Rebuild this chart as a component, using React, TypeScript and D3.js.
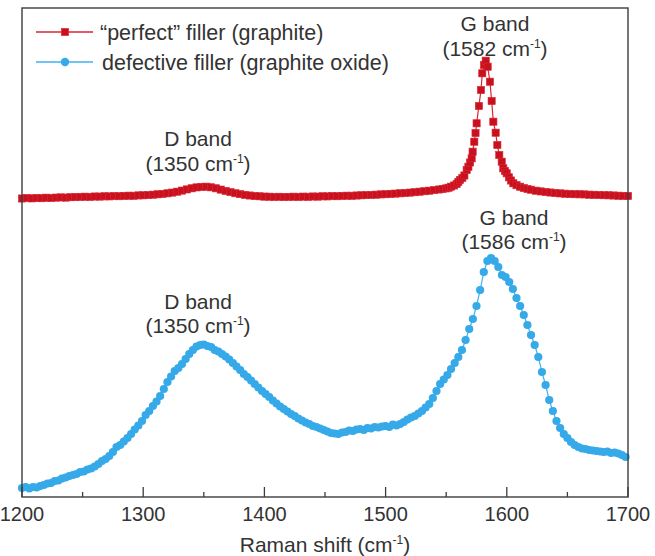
import React from "react";
import * as d3 from "d3";

const tickLabels = [1200, 1300, 1400, 1500, 1600, 1700];
const minorTicks = [1250, 1350, 1450, 1550, 1650];

const seriesNames = ["\u201Cperfect\u201D filler (graphite)", "defective filler (graphite oxide)"];

const redShift = [1200,1204,1208,1212,1216,1220,1224,1228,1232,1236,1240,1244,1248,1252,1256,1260,1264,1268,1272,1276,1280,1284,1288,1292,1296,1300,1304,1308,1312,1316,1320,1324,1328,1332,1336,1340,1344,1348,1352,1356,1360,1364,1368,1372,1376,1380,1384,1388,1392,1396,1400,1404,1408,1412,1416,1420,1424,1428,1432,1436,1440,1444,1448,1452,1456,1460,1464,1468,1472,1476,1480,1484,1488,1492,1496,1500,1504,1508,1512,1516,1520,1524,1528,1532,1536,1540,1544,1547,1550,1552,1554,1556.5,1558.6,1560,1561.4,1563.3,1565,1566.9,1568.3,1569.7,1571,1571.8,1573.2,1574.2,1575.1,1577,1578.7,1579.8,1581.2,1582.6,1584.2,1586.1,1587.5,1588.9,1590.8,1592.2,1593.8,1595.8,1597.1,1598.5,1599.9,1601.8,1603.5,1605.4,1608,1611,1614,1617,1620,1624,1628,1632,1636,1640,1644,1648,1652,1656,1660,1664,1668,1672,1676,1680,1684,1688,1692,1696,1700];
const redIntensity = [298.5,299,298.6,299,298.8,299.3,299,299.4,299.6,299.4,299.8,299.9,300.1,300.3,300.1,300.5,300.4,300.7,300.6,300.9,300.8,301.1,301.3,301.2,301.6,301.7,302,302.3,302.7,303.1,303.7,304.4,305.3,306.4,307.6,308.7,309.6,310.1,310.3,309.7,308.7,307.4,306.1,304.9,303.8,302.9,302.1,301.5,301,300.7,300.4,300.3,300.1,300.2,300,300.1,300.3,300.1,300.4,300.2,300.5,300.4,300.7,300.6,300.9,300.8,301.1,301.3,301.2,301.5,301.7,301.9,302.1,302.3,302.6,302.8,303.1,303.4,303.7,304,304.4,304.8,305.3,305.8,306.3,306.9,307.5,308,308.6,309.3,310.3,311.5,313,315,317,319,321.5,327,330.3,334.5,338.7,345.3,355.3,364,373.7,391,407,423.7,432,436.3,430.3,415.3,396,375.3,364.3,352,342,335.3,328.7,326,323.7,319.7,316.5,313.7,311.8,310.3,309,308,307.3,306.3,305.6,305,304.5,304,303.6,303.3,303,302.8,302.7,302.6,302.3,302.2,302,301.8,301.7,301.5,301.3,301.1,301];

const blueShift = [1200,1203,1206,1209,1212,1215,1218,1221,1224,1227,1230,1233,1236,1239,1242,1245,1248,1251,1254,1257,1260,1263,1266,1269,1272,1275,1278,1281,1284,1287,1290,1293,1296,1299,1302,1305,1308,1311,1314,1317,1320,1323,1326,1329,1332,1335,1338,1341,1344,1347,1350,1353,1356,1359,1362,1365,1368,1371,1374,1377,1380,1383,1386,1389,1392,1395,1398,1401,1404,1407,1410,1413,1416,1419,1422,1425,1428,1431,1434,1437,1440,1443,1446,1449,1452,1455,1458,1461,1464,1467,1470,1473,1476,1479,1482,1485,1488,1491,1494,1497,1500,1503,1506,1509,1512,1515,1518,1521,1524,1527,1530,1533,1536,1539,1542,1545,1548,1551,1554,1557,1560,1563,1566,1569,1572,1575,1578,1581,1584,1587,1590,1593,1596,1599,1602,1605,1608,1611,1614,1617,1620,1623,1626,1629,1632,1635,1638,1641,1644,1647,1650,1653,1656,1659,1662,1665,1668,1671,1674,1677,1680,1683,1686,1689,1692,1695,1698];
const blueIntensity = [9,10,8.5,10,9.5,11,12,13.5,14,16,16.5,18.5,19.5,21,22,23,25,25.5,27.5,28.5,30.5,33,36,38,41,45,50,52,55.5,59,63,67.5,71.5,76,82,86,91,95.5,101,108,115,120.5,126,129,133,138,143,147,150.5,152,152.5,151,150,147,145.5,143,140.5,137.5,134,130.5,127,123,120,116.5,113,109.5,106,103,100,96.5,93.5,90.5,88,85.5,83,81,78.5,76.5,74.5,73,71,70,68.5,67,65.5,64,63.5,63,64.5,65,66.5,66,67.5,68,67,69,68.5,70,69.5,70.5,71,70,72.5,71.5,73,75,77.5,79.5,81,83.5,86,89.5,93,99,106,113,117.5,122,128,134,140,147,157,168,178,191,207,225,236,239,236,230,222,220,215,208,199,191,182,172,162,152,140,125,112,97,86,76,69,63,59,55,52,50,48.5,48,47,46.5,46,45.5,45,45.5,44,44.5,43.5,42,40];

const FONT = "'Liberation Sans', Arial, Helvetica, sans-serif";
const TEXT = "#333333";
const RED_FILL = "#c9101f";
const RED_LINE = "#d8262f";
const BLUE_FILL = "#36a9e9";
const BLUE_LINE = "#3fb3f2";

const W = 655;
const H = 556;
const PL = 22, PR = 628, PT = 8, PB = 497;

function Band({ cx, y1, y2, name, wn }: { cx: number; y1: number; y2: number; name: string; wn: string }) {
  return (
    <g fontFamily={FONT} fill={TEXT} textAnchor="middle">
      <text x={cx} y={y1} fontSize={21}>{name}</text>
      <text x={cx} y={y2} fontSize={21}>
        <tspan>({wn} cm</tspan>
        <tspan dy={-8} fontSize={12}>-1</tspan>
        <tspan dy={8}>)</tspan>
      </text>
    </g>
  );
}

export default function App() {
  const x = d3.scaleLinear().domain([1200, 1700]).range([PL, PR]);
  const y = d3.scaleLinear().domain([0, 489]).range([PB, PT]);

  const redPts: [number, number][] = redShift.map((s, i) => [s, redIntensity[i]]);
  const bluePts: [number, number][] = blueShift.map((s, i) => [s, blueIntensity[i]]);
  const line = d3
    .line<[number, number]>()
    .x((d) => x(d[0]))
    .y((d) => y(d[1]));

  const sq = 7.2;

  return (
    <svg
      width={W}
      height={H}
      style={{ position: "absolute", left: 0, top: 0, background: "#fff" }}
    >
      <rect x={0} y={0} width={W} height={H} fill="#fff" />

      {/* red series */}
      <path d={line(redPts) || ""} fill="none" stroke={RED_LINE} strokeWidth={1.2} />
      {redPts.map((d, i) => (
        <rect
          key={"r" + i}
          x={x(d[0]) - sq / 2}
          y={y(d[1]) - sq / 2}
          width={sq}
          height={sq}
          fill={RED_FILL}
          stroke="#d92a35"
          strokeWidth={0.6}
        />
      ))}

      {/* blue series */}
      <path d={line(bluePts) || ""} fill="none" stroke={BLUE_LINE} strokeWidth={1.2} />
      {bluePts.map((d, i) => (
        <circle key={"b" + i} cx={x(d[0])} cy={y(d[1])} r={4.1} fill={BLUE_FILL} />
      ))}

      {/* frame */}
      <rect x={PL} y={PT} width={PR - PL} height={PB - PT} fill="none" stroke="#3c3c3c" strokeWidth={1.4} />

      {/* ticks */}
      {tickLabels.map((t) => (
        <g key={"t" + t}>
          <line x1={x(t)} x2={x(t)} y1={PB} y2={PB - 10} stroke="#3c3c3c" strokeWidth={1.3} />
          <text x={x(t)} y={PB + 24} textAnchor="middle" fontFamily={FONT} fontSize={20} fill={TEXT}>
            {t}
          </text>
        </g>
      ))}
      {minorTicks.map((t) => (
        <line key={"m" + t} x1={x(t)} x2={x(t)} y1={PB} y2={PB - 5} stroke="#3c3c3c" strokeWidth={1.3} />
      ))}

      {/* axis title */}
      <text x={(PL + PR) / 2} y={552} textAnchor="middle" fontFamily={FONT} fontSize={21} fill={TEXT}>
        <tspan>Raman shift (cm</tspan>
        <tspan dy={-8} fontSize={12}>-1</tspan>
        <tspan dy={8}>)</tspan>
      </text>

      {/* annotations */}
      <Band cx={495} y1={31} y2={56} name="G band" wn="1582" />
      <Band cx={198} y1={146} y2={171} name="D band" wn="1350" />
      <Band cx={198} y1={309} y2={333} name="D band" wn="1350" />
      <Band cx={514} y1={225} y2={249} name="G band" wn="1586" />

      {/* legend */}
      <g fontFamily={FONT} fontSize={21.5} fill={TEXT}>
        <line x1={36} x2={93} y1={32} y2={32} stroke={RED_LINE} strokeWidth={1.3} />
        <rect x={65 - 3.5} y={32 - 3.5} width={7} height={7} fill={RED_FILL} stroke="#e0303c" strokeWidth={0.8} />
        <text x={100} y={39.5}>{seriesNames[0]}</text>
        <line x1={36} x2={93} y1={62} y2={62} stroke={BLUE_LINE} strokeWidth={1.3} />
        <circle cx={65} cy={62} r={4.2} fill={BLUE_FILL} />
        <text x={102} y={69.5}>{seriesNames[1]}</text>
      </g>
    </svg>
  );
}
